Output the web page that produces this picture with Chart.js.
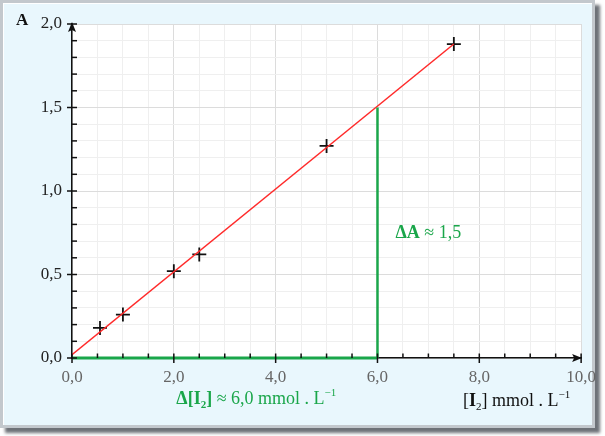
<!DOCTYPE html>
<html>
<head>
<meta charset="utf-8">
<script src="https://cdn.jsdelivr.net/npm/chart.js@4"></script>
<style>
  html, body { margin: 0; padding: 0; background: #ffffff; }
  #frame {
    position: absolute; left: 0; top: 0;
    width: 589px; height: 422px;
    background: #e9f7fd;
    border: 3px solid #c3c8cd;
    box-shadow: inset 1px 1px 0 #ffffff, 5px 5px 3px #6e7278;
  }
  #chart { position: absolute; left: 0; top: 0; }
</style>
</head>
<body>
<div id="frame"></div>
<canvas id="chart" width="605" height="436"></canvas>
<script>
// mesures
const concI2 = [0.55, 1.0, 2.0, 2.5, 5.0, 7.5];
const absorbance = [0.18, 0.26, 0.52, 0.62, 1.27, 1.88];

// droite moyenne
const fitX = [0, 7.5];
const fitY = [0.02, 1.88];

// lecture graphique
const readX = 6.0;
const readA = 1.5;

const xTickLabels = ['0,0', '2,0', '4,0', '6,0', '8,0', '10,0'];
const yTickLabels = ['0,0', '0,5', '1,0', '1,5', '2,0'];

const FONT = '"Liberation Serif", "DejaVu Serif", serif';
const GREEN = '#1aa64a';

function isMult(v, step) {
  const q = v / step;
  return Math.abs(q - Math.round(q)) < 1e-6;
}

function drawRich(ctx, runs, x, y, size, color, align) {
  const fontOf = r => (r.b ? 'bold ' : '') + ((r.sub || r.sup) ? Math.round(size * 0.62) : size) + 'px ' + FONT;
  let w = 0;
  runs.forEach(r => { ctx.font = fontOf(r); w += ctx.measureText(r.t).width; });
  let cx = align === 'center' ? x - w / 2 : align === 'right' ? x - w : x;
  ctx.fillStyle = color;
  ctx.textAlign = 'left';
  ctx.textBaseline = 'alphabetic';
  runs.forEach(r => {
    ctx.font = fontOf(r);
    let dy = r.sub ? size * 0.22 : r.sup ? -size * 0.42 : 0;
    ctx.fillText(r.t, cx, y + dy);
    cx += ctx.measureText(r.t).width;
  });
}

const decorPlugin = {
  id: 'decor',
  beforeDraw(chart) {
    const { ctx, chartArea: a } = chart;
    ctx.save();
    ctx.fillStyle = '#ffffff';
    ctx.fillRect(a.left, a.top, a.right - a.left, a.bottom - a.top);
    ctx.restore();
  },
  afterDraw(chart) {
    const { ctx, chartArea: a } = chart;
    const xs = chart.scales.x, ys = chart.scales.y;
    ctx.save();
    ctx.strokeStyle = '#111';
    ctx.fillStyle = '#111';
    ctx.lineWidth = 1.5;
    // ticks x
    xs.ticks.forEach(t => {
      const px = xs.getPixelForValue(t.value);
      const major = isMult(t.value, 2);
      ctx.beginPath();
      ctx.moveTo(px, a.bottom - 4.5);
      ctx.lineTo(px, a.bottom + (major ? 5 : 0));
      ctx.stroke();
    });
    // ticks y
    ys.ticks.forEach(t => {
      const py = ys.getPixelForValue(t.value);
      const major = isMult(t.value, 0.5);
      ctx.beginPath();
      ctx.moveTo(a.left - (major ? 5 : 0), py);
      ctx.lineTo(a.left + 5, py);
      ctx.stroke();
    });
    // fleches
    ctx.beginPath();
    ctx.moveTo(a.left, a.top - 2);
    ctx.lineTo(a.left - 4, a.top + 8);
    ctx.lineTo(a.left, a.top + 6);
    ctx.lineTo(a.left + 4, a.top + 8);
    ctx.closePath();
    ctx.fill();
    ctx.beginPath();
    ctx.moveTo(a.right + 1, a.bottom);
    ctx.lineTo(a.right - 9, a.bottom - 4);
    ctx.lineTo(a.right - 7, a.bottom);
    ctx.lineTo(a.right - 9, a.bottom + 4);
    ctx.closePath();
    ctx.fill();

    // textes
    drawRich(ctx, [{ t: 'A', b: true }], a.left - 56, a.top + 1, 17, '#111', 'left');
    drawRich(ctx, [
      { t: '[' }, { t: 'I', b: true }, { t: '2', sub: true }, { t: '] mmol . L' }, { t: '\u22121', sup: true }
    ], a.right - 11, a.bottom + 48, 18, '#111', 'right');
    drawRich(ctx, [
      { t: '\u0394[I', b: true }, { t: '2', b: true, sub: true }, { t: ']', b: true },
      { t: ' \u2248 6,0 mmol . L' }, { t: '\u22121', sup: true }
    ], xs.getPixelForValue(2.05), a.bottom + 46, 18, GREEN, 'left');
    drawRich(ctx, [{ t: '\u0394A', b: true }, { t: ' \u2248 1,5' }],
      xs.getPixelForValue(readX) + 18, ys.getPixelForValue(0.72), 18, GREEN, 'left');
    ctx.restore();
  }
};

new Chart(document.getElementById('chart'), {
  type: 'scatter',
  data: {
    datasets: [
      {
        label: 'horizontal',
        data: [{ x: 0, y: 0 }, { x: readX, y: 0 }],
        showLine: true, borderColor: GREEN, borderWidth: 3, pointRadius: 0, clip: false
      },
      {
        label: 'vertical',
        data: [{ x: readX, y: 0 }, { x: readX, y: readA }],
        showLine: true, borderColor: GREEN, borderWidth: 2.5, pointRadius: 0, clip: false
      },
      {
        label: 'droite',
        data: fitX.map((x, i) => ({ x: x, y: fitY[i] })),
        showLine: true, borderColor: '#ff2a2a', borderWidth: 1.5, pointRadius: 0
      },
      {
        label: 'mesures',
        data: concI2.map((x, i) => ({ x: x, y: absorbance[i] })),
        pointStyle: 'cross', pointRadius: 7, pointBorderWidth: 1.8,
        pointBorderColor: '#111', pointBackgroundColor: '#111', clip: false
      }
    ]
  },
  options: {
    responsive: false,
    animation: false,
    layout: { padding: { left: 0, top: 24, right: 23, bottom: 0 } },
    plugins: { legend: { display: false }, tooltip: { enabled: false } },
    scales: {
      x: {
        type: 'linear', min: 0, max: 10,
        afterFit(scale) { scale.height = 78; },
        grid: {
          drawTicks: false,
          color: c => isMult(c.tick.value, 2) ? '#dcdcdc' : '#efefef',
          lineWidth: 1
        },
        border: { color: '#111', width: 1.5 },
        ticks: {
          stepSize: 0.5, autoSkip: false, maxRotation: 0, padding: 9,
          color: '#666', font: { family: FONT, size: 17 },
          callback: v => isMult(v, 2) ? xTickLabels[Math.round(v / 2)] : ''
        }
      },
      y: {
        type: 'linear', min: 0, max: 2,
        afterFit(scale) { scale.width = 72; },
        grid: {
          drawTicks: false,
          color: c => isMult(c.tick.value, 0.5) ? '#dcdcdc' : '#efefef',
          lineWidth: 1
        },
        border: { color: '#111', width: 1.5 },
        ticks: {
          stepSize: 0.1, autoSkip: false, padding: 10,
          color: '#222', font: { family: FONT, size: 17 },
          callback: v => isMult(v, 0.5) ? yTickLabels[Math.round(v / 0.5)] : ''
        }
      }
    }
  },
  plugins: [decorPlugin]
});
</script>
</body>
</html>
